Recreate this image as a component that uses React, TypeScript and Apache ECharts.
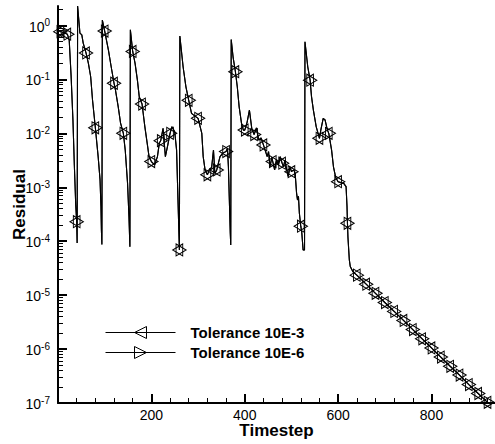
import React, { useEffect, useRef } from 'react';
import * as echarts from 'echarts';

// ---- data ----
const steps = [
  1, 5, 12, 20, 24, 28, 32, 35, 38, 40, 41,
  42, 47, 51, 54, 60, 65, 70, 74, 80, 86, 90, 92, 93, 94,
  95, 100, 108, 114, 120, 123, 129, 134, 140, 144, 149, 152, 154,
  155, 160, 165, 170, 174, 180, 186, 191, 195, 200, 207, 213, 217, 220, 225, 230, 235, 240, 244, 250, 254, 257, 260,
  261, 268, 274, 280, 286, 290, 300, 308, 311, 315, 320, 325, 329, 333, 336, 340, 347, 353, 360, 363, 365, 367, 369, 370,
  371, 375, 380, 384, 388, 393, 397, 400, 405, 410, 415, 420, 425, 430, 435, 440, 445, 448, 451, 454, 458, 460, 464, 468,
  472, 476, 480, 483, 486, 490, 493, 497, 500, 505, 508, 511, 513, 515, 517, 520, 522, 525, 528,
  529, 535, 540, 543, 547, 553, 560, 563, 568, 572, 577, 580, 586, 590, 595, 600, 606, 612, 617, 619, 620, 621, 624, 626, 632,
  640, 660, 680, 700, 720, 740, 760, 780, 800, 820, 840, 860, 880, 900, 920, 930,
];

const residuals = [
  0.8, 0.77, 0.74, 0.69, 0.54, 0.12, 0.0177, 0.0026, 4.7e-4, 2.3e-4, 9.3e-5,
  2.3, 0.72, 0.67, 0.47, 0.31, 0.2, 0.112, 0.041, 0.0127, 0.0037, 0.0014, 4.5e-4, 1.6e-4, 8.7e-5,
  1.26, 0.79, 0.35, 0.17, 0.085, 0.064, 0.031, 0.0155, 0.01, 0.0049, 0.00118, 2.85e-4, 7.9e-5,
  0.83, 0.33, 0.2, 0.098, 0.048, 0.035, 0.0133, 0.0066, 0.0037, 0.003, 0.0026, 0.0037, 0.0066, 0.0073, 0.0124, 0.0037, 0.006, 0.01, 0.0133, 0.0107, 0.0049, 5.8e-4, 6.9e-5,
  0.64, 0.17, 0.073, 0.041, 0.0235, 0.022, 0.019, 0.01, 0.0037, 0.0021, 0.0017, 0.0022, 0.0023, 0.0049, 0.0018, 0.0021, 0.0037, 0.0043, 0.0046, 0.0053, 0.0024, 5.8e-4, 1.4e-4, 8.5e-5,
  0.55, 0.26, 0.139, 0.073, 0.031, 0.0155, 0.0115, 0.0115, 0.016, 0.027, 0.0124, 0.0095, 0.0126, 0.0075, 0.0082, 0.0061, 0.0045, 0.0037, 0.0046, 0.0024, 0.0036, 0.003, 0.0021, 0.0032,
  0.0026, 0.0037, 0.0028, 0.0024, 0.0032, 0.0021, 0.0016, 0.0024, 0.00195, 0.0021, 0.0018, 7.8e-4, 5.8e-4, 6.8e-4, 3.3e-4, 1.9e-4, 1.5e-4, 6.9e-5, 6.9e-5,
  0.5, 0.17, 0.097, 0.048, 0.027, 0.0133, 0.0081, 0.0116, 0.019, 0.0177, 0.0115, 0.01, 0.0049, 0.0024, 0.0015, 0.00127, 0.00122, 0.00118, 0.00103, 4.5e-4, 2.15e-4, 1.2e-4, 4.5e-5, 3.4e-5, 2.7e-5,
  2.35e-5, 1.6e-5, 1.08e-5, 7.3e-6, 5.0e-6, 3.4e-6, 2.3e-6, 1.55e-6, 1.05e-6, 7.1e-7, 4.8e-7, 3.3e-7, 2.2e-7, 1.5e-7, 1.03e-7, 8.7e-8,
];

const markerSteps = [
  5, 20, 40, 60, 80, 100, 120, 140, 160, 180, 200, 220, 240, 260, 280, 300, 320, 340, 360, 380,
  400, 420, 440, 460, 480, 500, 520, 540, 560, 580, 600, 620, 640, 660, 680, 700, 720, 740, 760,
  780, 800, 820, 840, 860, 880, 900, 920,
];

const seriesNames = ['Tolerance 10E-3', 'Tolerance 10E-6'];
const xLabelTicks = [200, 400, 600, 800];
const xMinorTicks = [40, 80, 120, 160, 240, 280, 320, 360, 440, 480, 520, 560, 640, 680, 720, 760, 840, 880, 920];
const yLabelTicks = [1e-7, 1e-6, 1e-5, 1e-4, 1e-3, 1e-2, 1e-1, 1];
const yMinorMantissas = [2, 3, 4, 5, 6, 7, 8, 9];

const X_MAX = 936;
const Y_MIN = 1e-7;
const Y_MAX = 2.3;

const FONT = '"Liberation Sans", Arial, Helvetica, sans-serif';
const LEFT_TRI = 'path://M0,5L10,0L10,10Z';
const RIGHT_TRI = 'path://M10,5L0,0L0,10Z';
const TRI_W = 10;
const TRI_H = 12;

function buildOption() {
  const markerSet = new Set(markerSteps);
  const lineData = steps.map((t, i) =>
    markerSet.has(t)
      ? { value: [t, residuals[i]] }
      : { value: [t, residuals[i]], symbol: 'none' }
  );

  const yMinorTicks: number[] = [];
  yLabelTicks.forEach((base) => {
    yMinorMantissas.forEach((m) => {
      const v = Number((m * base).toPrecision(6));
      if (v < Y_MAX) yMinorTicks.push(v);
    });
  });

  const makeSeries = (name: string, symbol: string, dx: number) => ({
    name,
    type: 'line',
    data: lineData,
    symbol,
    symbolSize: [TRI_W, TRI_H],
    symbolOffset: [dx, 0],
    showAllSymbol: true,
    clip: true,
    silent: true,
    lineStyle: { color: '#000', width: 1.1 },
    itemStyle: { color: 'rgba(255,255,255,0)', borderColor: '#000', borderWidth: 1 },
    emphasis: { disabled: true },
  });

  return {
    animation: false,
    backgroundColor: '#fff',
    textStyle: { fontFamily: FONT, color: '#000' },
    grid: { left: 58, right: 0, top: 6, bottom: 41, containLabel: false, outerBoundsMode: 'none' },
    legend: {
      orient: 'vertical',
      left: 100,
      top: 320,
      itemWidth: 70,
      itemHeight: 15,
      itemGap: 5,
      selectedMode: false,
      data: seriesNames,
      lineStyle: { width: 1, color: '#000' },
      itemStyle: { borderWidth: 1, borderColor: '#000', color: 'rgba(255,255,255,0)' },
      textStyle: { fontFamily: FONT, fontSize: 15, fontWeight: 'bold', color: '#000', padding: [0, 0, 0, 10] },
    },
    xAxis: [
      {
        type: 'value',
        min: 0,
        max: X_MAX,
        position: 'bottom',
        name: 'Timestep',
        nameLocation: 'middle',
        nameGap: 19,
        nameMoveOverlap: false,
        nameTextStyle: { fontFamily: FONT, fontSize: 17, fontWeight: 'bold', color: '#000', lineHeight: 17 },
        axisLine: { show: true, onZero: false, lineStyle: { color: '#000', width: 2 } },
        axisTick: { show: true, inside: true, length: 9, customValues: xLabelTicks, lineStyle: { color: '#000', width: 2 } },
        axisLabel: { customValues: xLabelTicks, fontFamily: FONT, fontSize: 14, lineHeight: 14, color: '#000', margin: 5 },
        splitLine: { show: false },
      },
      {
        type: 'value',
        min: 0,
        max: X_MAX,
        position: 'bottom',
        axisLine: { show: false, onZero: false },
        axisTick: { show: true, inside: true, length: 5, customValues: xMinorTicks, lineStyle: { color: '#000', width: 1 } },
        axisLabel: { show: false },
        splitLine: { show: false },
      },
    ],
    yAxis: [
      {
        type: 'log',
        logBase: 10,
        min: Y_MIN,
        max: Y_MAX,
        position: 'left',
        name: 'Residual',
        nameLocation: 'middle',
        nameGap: 30,
        nameMoveOverlap: false,
        nameTextStyle: { fontFamily: FONT, fontSize: 17, fontWeight: 'bold', color: '#000' },
        axisLine: { show: true, onZero: false, lineStyle: { color: '#000', width: 2 } },
        axisTick: { show: true, inside: true, length: 9, customValues: yLabelTicks, lineStyle: { color: '#000', width: 2 } },
        axisLabel: {
          customValues: yLabelTicks,
          margin: 8,
          formatter: (v: number) => {
            const e = Math.round(Math.log10(v));
            return '{a|10}{b|' + e + '}';
          },
          rich: {
            a: { fontFamily: FONT, fontSize: 14, color: '#000', lineHeight: 16, verticalAlign: 'bottom' },
            b: { fontFamily: FONT, fontSize: 10, color: '#000', lineHeight: 10, verticalAlign: 'top', padding: [0, 0, 8, 0] },
          },
        },
        splitLine: { show: false },
      },
      {
        type: 'log',
        logBase: 10,
        min: Y_MIN,
        max: Y_MAX,
        position: 'left',
        axisLine: { show: false, onZero: false },
        axisTick: { show: true, inside: true, length: 5, customValues: yMinorTicks, lineStyle: { color: '#000', width: 1 } },
        axisLabel: { show: false },
        splitLine: { show: false },
      },
    ],
    series: [
      makeSeries(seriesNames[0], LEFT_TRI, -TRI_W / 6),
      makeSeries(seriesNames[1], RIGHT_TRI, TRI_W / 6),
    ],
  };
}

export default function App() {
  const ref = useRef<HTMLDivElement>(null);
  useEffect(() => {
    if (!ref.current) return;
    const chart = echarts.init(ref.current, null, { renderer: 'svg' });
    chart.setOption(buildOption() as any);
    return () => chart.dispose();
  }, []);
  return (
    <div
      ref={ref}
      style={{ position: 'fixed', left: 0, top: 0, width: 495, height: 444, background: '#fff' }}
    />
  );
}
